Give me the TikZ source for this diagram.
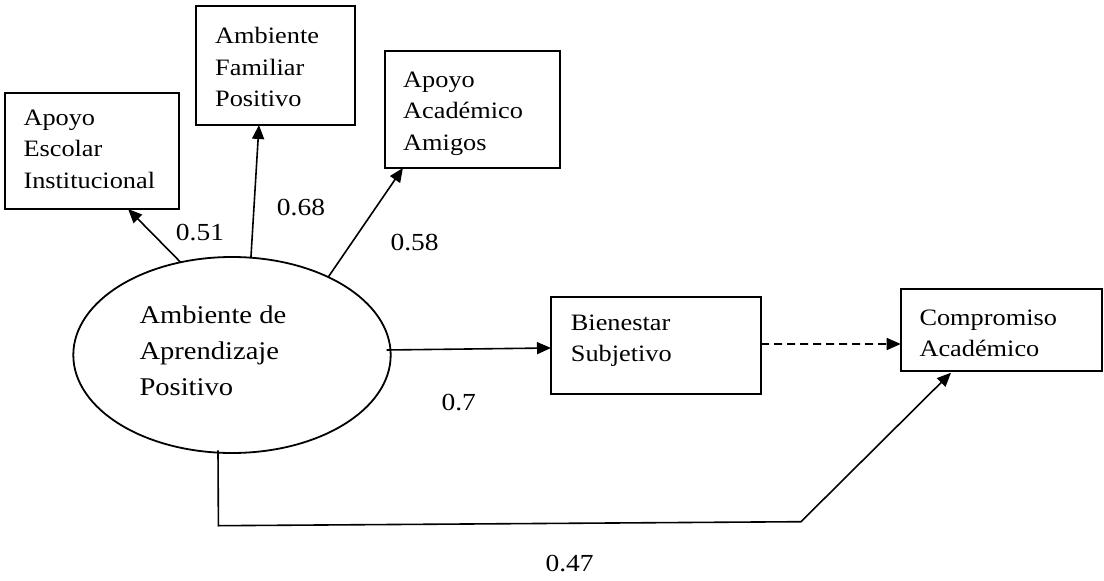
\documentclass[tikz,border=0pt]{standalone}
\usepackage{fontspec}
\setmainfont{Liberation Serif}[FakeStretch=1.12]
\usetikzlibrary{arrows.meta,shapes.geometric,calc}
\begin{document}
\begin{tikzpicture}[x=1pt,y=-1pt,
  box/.style={draw,line width=1.8pt,rectangle,inner sep=0pt,outer sep=0pt,anchor=north west},
  txt/.style={anchor=base west,inner sep=0pt,align=left,font=\fontsize{23.5}{31.5}\selectfont},
  etxt/.style={anchor=base west,inner sep=0pt,align=left,font=\fontsize{25.5}{36}\selectfont},
  lab/.style={anchor=base,inner sep=0pt,font=\fontsize{24.5}{28}\selectfont},
  arr/.style={line width=1.6pt,-{Triangle[length=14pt,width=12pt]}},
  dasharr/.style={arr,dash pattern=on 8pt off 5pt}]
\useasboundingbox (0,0) rectangle (1104,581);
% boxes
\node[box,minimum width=174.3pt,minimum height=116.3pt] (b1) at (4.7,92.7) {};
\node[box,minimum width=159pt,minimum height=119.3pt] (b2) at (196,5.7) {};
\node[box,minimum width=175.3pt,minimum height=117pt] (b3) at (384.7,51) {};
\node[box,minimum width=210pt,minimum height=97.3pt] (b4) at (551,296.7) {};
\node[box,minimum width=201.3pt,minimum height=81.4pt] (b5) at (900.7,289.3) {};
\node[draw,ellipse,line width=1.8pt,minimum width=317.4pt,minimum height=196pt,inner sep=0pt,outer sep=0pt] (ell) at (232,355) {};
% texts (anchor = baseline of the last line)
\node[txt] (t1) at (23.3,188) {Apoyo\\Escolar\\Institucional};
\node[txt] (t2) at (215,106.7) {Ambiente\\Familiar\\Positivo};
\node[txt] (t3) at (403,150) {Apoyo\\Académico\\Amigos};
\node[txt] (t4) at (570.7,361.7) {Bienestar\\Subjetivo};
\node[txt] (t5) at (919.3,356.7) {Compromiso\\Académico};
\node[etxt] (te) at (139.3,395.7) {Ambiente de\\Aprendizaje\\Positivo};
% labels
\node[lab] (l1) at (200,240) {0.51};
\node[lab] (l2) at (301,215) {0.68};
\node[lab] (l3) at (414.6,250) {0.58};
\node[lab] (l4) at (458.7,410) {0.7};
\node[lab] (l5) at (569.6,571.7) {0.47};
% connectors
\draw[arr] (ell.119.4) -- ($(b1.south west)!0.708!(b1.south east)$);
\draw[arr] (ell.79.5) -- ($(b2.south west)!0.396!(b2.south east)$);
\draw[arr] (ell.39) -- ($(b3.south west)!0.104!(b3.south east)$);
\coordinate (e4) at ($(ell.east)+(-4,-5)$);
\draw[arr] (e4) -- ($(b4.north west)!0.527!(b4.south west)$);
\draw[dasharr] ($(b4.north east)!0.486!(b4.south east)$) -- ($(b5.north west)!0.672!(b5.south west)$);
\coordinate (c0) at ($(ell.south)+(-14,-2.6)$);
\coordinate (c1) at (218.4,525.7);
\coordinate (c2) at (801,521.7);
\draw[arr] (c0) -- (c1) -- (c2) -- ($(b5.south west)!0.25!(b5.south east)+(0,2)$);
\end{tikzpicture}
\end{document}
